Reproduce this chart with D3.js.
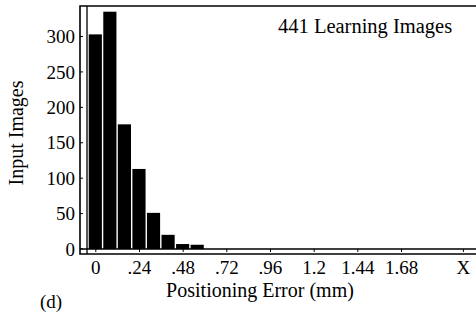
<!DOCTYPE html>
<html>
<head>
  <meta charset="UTF-8">
  <script type="text/javascript" src="https://cdn.jsdelivr.net/npm/d3@7"></script>
  <title>Positioning Error Histogram</title>
  <style>
    body { margin: 0; background: #fff; }
    svg text { font-family: "Liberation Serif", "Times New Roman", serif; fill: #000; }
  </style>
</head>
<body>
<svg width="476" height="313"></svg>
<script type="text/javascript">

  // histogram bins (mm, bin centre) and counts
  var binCenters = [ 0, 0.08, 0.16, 0.24, 0.32, 0.40, 0.48, 0.56 ];
  var counts = [ 303, 335, 176, 113, 51, 20, 7, 6 ];

  var xTickValues = [ 0, 0.24, 0.48, 0.72, 0.96, 1.2, 1.44, 1.68, 2.02 ];
  var xTickLabels = [ "0", ".24", ".48", ".72", ".96", "1.2", "1.44", "1.68", "X" ];
  var yTickValues = [ 0, 50, 100, 150, 200, 250, 300 ];

  var svg = d3.select( "svg" );

  var frame = { left: 80, top: 6, right: 482, bottom: 254 };
  var axisX = 87, axisY = 249;

  var x = d3.scaleLinear().domain( [ 0, 1.68 ] ).range( [ 95.3, 401 ] );
  var y = d3.scaleLinear().domain( [ 0, 300 ] ).range( [ axisY, 36.5 ] );

  var binWidth = 0.08;
  var barPx = x( binWidth ) - x( 0 ) - 1.4;

  // bars
  svg.selectAll( "rect.bar" ).data( counts ).enter()
      .append( "rect" )
      .attr( "class", "bar" )
      .attr( "fill", "#000" )
      .attr( "x", function ( d, i ) { return x( binCenters[i] ) - barPx / 2; } )
      .attr( "y", function ( d ) { return y( d ); } )
      .attr( "width", barPx )
      .attr( "height", function ( d ) { return y( 0 ) - y( d ); } );

  // outer frame
  svg.append( "path" )
      .attr( "fill", "none" )
      .attr( "stroke", "#000" )
      .attr( "stroke-width", 1.6 )
      .attr( "d", [
        "M", frame.right, frame.top,
        "L", frame.left, frame.top,
        "L", frame.left, frame.bottom,
        "L", frame.right, frame.bottom
      ].join( " " ) );

  // inner axis lines
  svg.append( "path" )
      .attr( "fill", "none" )
      .attr( "stroke", "#000" )
      .attr( "stroke-width", 1.3 )
      .attr( "d", [
        "M", axisX, frame.top, "L", axisX, frame.bottom,
        "M", frame.left, axisY, "L", frame.right, axisY
      ].join( " " ) );

  var xAxis = svg.append( "g" )
      .attr( "transform", "translate(0," + axisY + ")" )
      .call( d3.axisBottom( x )
          .tickValues( xTickValues )
          .tickFormat( function ( d, i ) { return xTickLabels[i]; } )
          .tickSize( 3 )
          .tickPadding( 9 ) );

  var yAxis = svg.append( "g" )
      .attr( "transform", "translate(" + frame.left + ",0)" )
      .call( d3.axisLeft( y )
          .tickValues( yTickValues )
          .tickFormat( d3.format( "d" ) )
          .tickSize( 0 )
          .tickPadding( 5 ) );

  [ xAxis, yAxis ].forEach( function ( g )
  {
    g.attr( "font-family", "Liberation Serif, Times New Roman, serif" )
        .attr( "font-size", 19 );
    g.select( ".domain" ).remove();
    g.selectAll( "text" ).style( "font-size", "19px" );
    g.selectAll( "line" ).attr( "stroke", "#000" );
  } );

  // small y ticks between frame and axis
  svg.selectAll( "line.ytick" ).data( yTickValues ).enter()
      .append( "line" )
      .attr( "class", "ytick" )
      .attr( "stroke", "#000" )
      .attr( "x1", frame.left )
      .attr( "x2", frame.left + 3 )
      .attr( "y1", function ( d ) { return y( d ); } )
      .attr( "y2", function ( d ) { return y( d ); } );

  svg.append( "text" )
      .attr( "x", 278 )
      .attr( "y", 33 )
      .style( "font-size", "20.5px" )
      .text( "441 Learning Images" );

  svg.append( "text" )
      .attr( "x", 260 )
      .attr( "y", 297 )
      .attr( "text-anchor", "middle" )
      .style( "font-size", "20px" )
      .text( "Positioning Error (mm)" );

  svg.append( "text" )
      .attr( "transform", "translate(23,133) rotate(-90)" )
      .attr( "text-anchor", "middle" )
      .style( "font-size", "20px" )
      .text( "Input Images" );

  svg.append( "text" )
      .attr( "x", 40 )
      .attr( "y", 308 )
      .style( "font-size", "19px" )
      .text( "(d)" );
</script>
</body>
</html>
